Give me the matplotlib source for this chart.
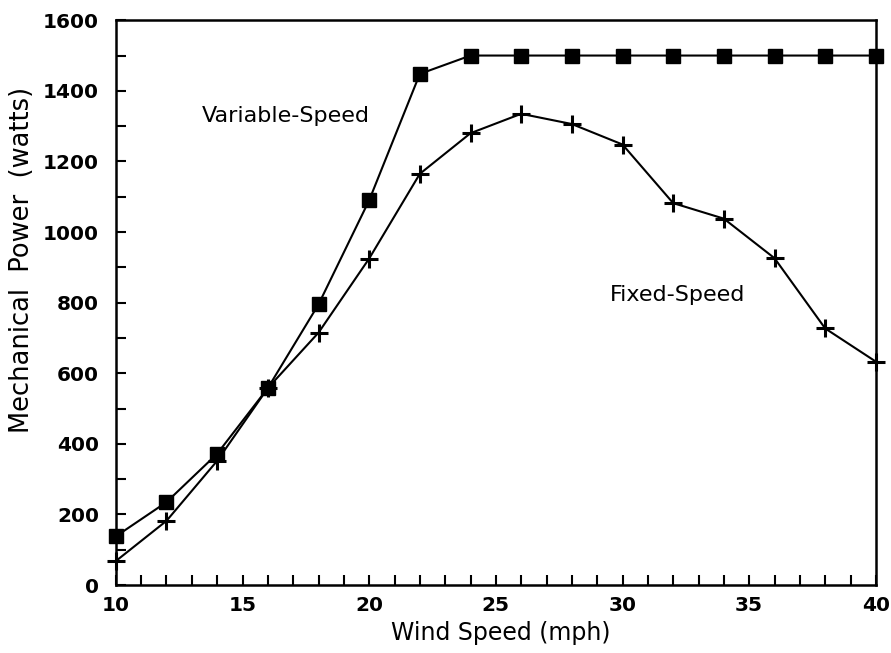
import matplotlib
matplotlib.use('Agg')
import matplotlib.pyplot as plt
from matplotlib.ticker import MultipleLocator

# wind speed (mph)
wind = [10, 12, 14, 16, 18, 20, 22, 24, 26, 28, 30, 32, 34, 36, 38, 40]

# mechanical power (watts)
variable_speed = [138, 235, 372, 558, 795, 1090, 1448, 1500, 1500, 1500, 1500, 1500, 1500, 1500, 1500, 1500]
fixed_speed = [68, 182, 352, 558, 715, 925, 1165, 1280, 1335, 1306, 1248, 1082, 1038, 926, 727, 633]

plt.rcParams['font.family'] = ['DejaVu Sans']

fig = plt.figure(figsize=(8.91, 6.53), dpi=100)
ax = fig.add_axes([0.130, 0.104, 0.853, 0.865])

ax.plot(wind, variable_speed, color='black', lw=1.5, marker='s', markersize=10.5,
        clip_on=False, zorder=3)
ax.plot(wind, fixed_speed, color='black', lw=1.5, marker='+', markersize=13,
        markeredgewidth=2.2, clip_on=False, zorder=3)

ax.text(13.4, 1329, 'Variable-Speed', fontsize=16, va='center', ha='left')
ax.text(29.5, 821, 'Fixed-Speed', fontsize=16, va='center', ha='left')

ax.set_xlim(10, 40)
ax.set_ylim(0, 1600)
ax.xaxis.set_major_locator(MultipleLocator(5))
ax.xaxis.set_minor_locator(MultipleLocator(1))
ax.yaxis.set_major_locator(MultipleLocator(200))
ax.yaxis.set_minor_locator(MultipleLocator(100))
ax.tick_params(which='both', direction='in', length=7, width=1.5,
               top=False, right=False, labelsize=14.5)
ax.tick_params(axis='x', pad=8)
ax.tick_params(axis='y', pad=12)
for lab in ax.get_xticklabels() + ax.get_yticklabels():
    lab.set_fontweight('bold')

for sp in ax.spines.values():
    sp.set_linewidth(1.8)

ax.set_xlabel('Wind Speed (mph)', fontsize=17)
ax.set_ylabel('Mechanical  Power  (watts)', fontsize=18.5)
ax.xaxis.set_label_coords(0.507, -0.064)
ax.yaxis.set_label_coords(-0.106, 0.575)

fig.savefig('out.png', dpi=100)
